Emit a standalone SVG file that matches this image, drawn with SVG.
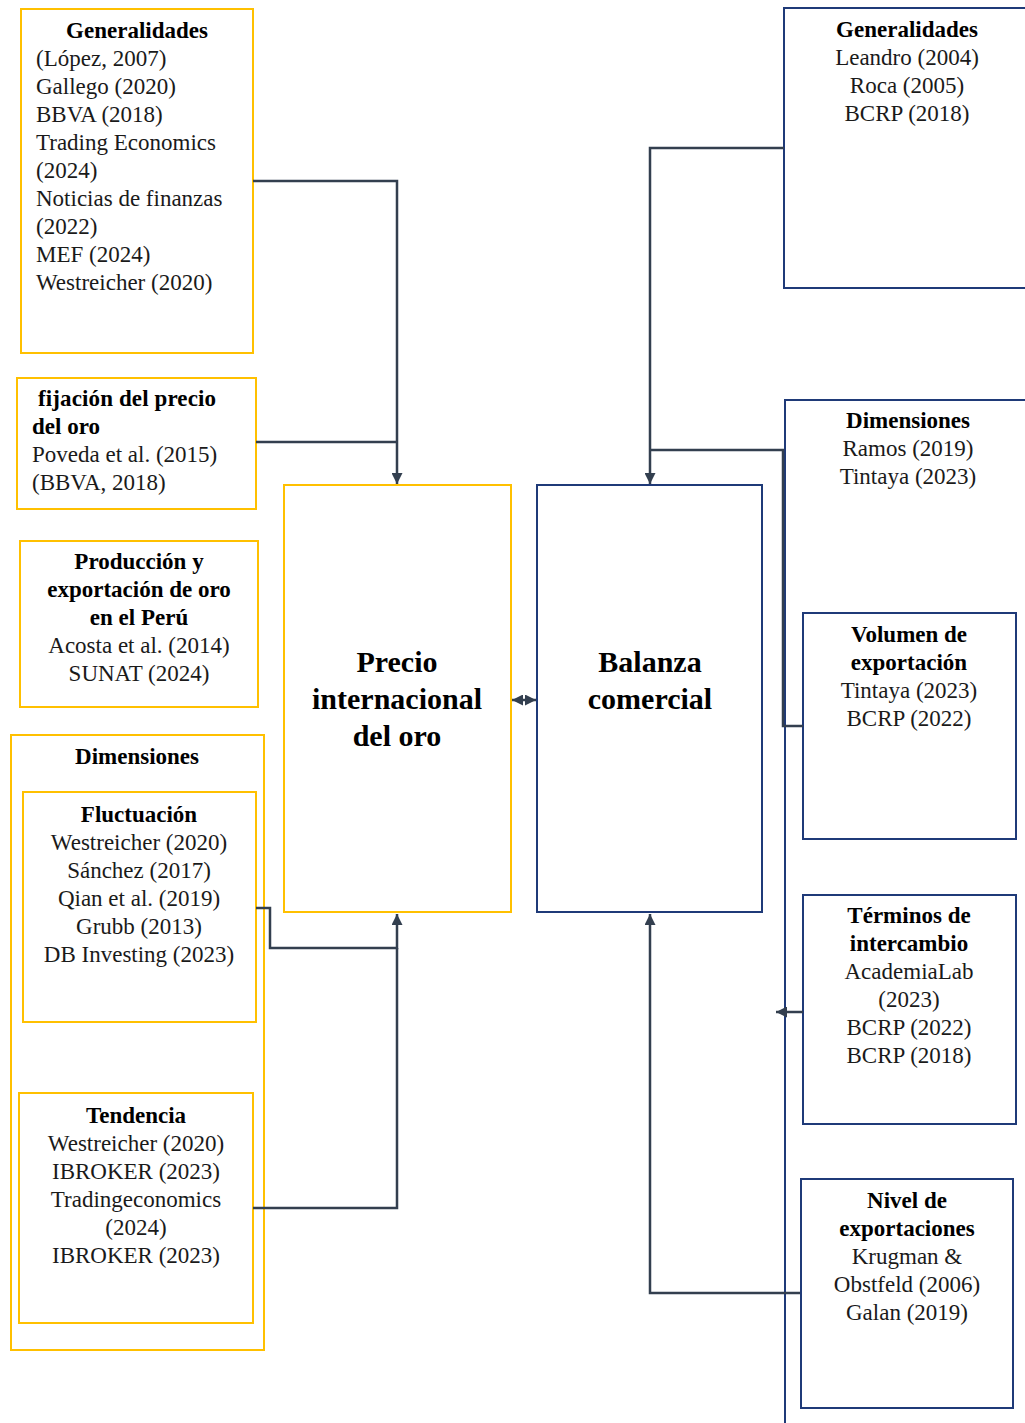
<svg xmlns="http://www.w3.org/2000/svg" width="1025" height="1423" viewBox="0 0 1025 1423">
<defs>
<style>
.y{fill:#fff;stroke:#FFC000;stroke-width:2}
.b{fill:#fff;stroke:#1F3A78;stroke-width:2}
.c{fill:none;stroke:#333F4F;stroke-width:2.5}
text{font-family:"Liberation Serif","Times New Roman",serif;font-size:23px;fill:#1a1a1a}
.t{font-weight:bold;fill:#000}
.m{text-anchor:middle}
.big{font-size:30px;font-weight:bold;fill:#000;text-anchor:middle}
</style>
<marker id="ar" viewBox="0 0 10 10" refX="10" refY="5" markerWidth="11" markerHeight="11" markerUnits="userSpaceOnUse" orient="auto-start-reverse">
<path d="M0,0 L10,5 L0,10 z" fill="#333F4F"/>
</marker>
</defs>
<rect width="1025" height="1423" fill="#fff"/>

<g id="gen-left">
<rect class="y" x="21" y="9" width="232" height="344"/>
<text class="t m" x="137" y="38">Generalidades</text>
<text x="36" y="66">(López, 2007)</text>
<text x="36" y="94">Gallego (2020)</text>
<text x="36" y="122">BBVA (2018)</text>
<text x="36" y="150">Trading Economics</text>
<text x="36" y="178">(2024)</text>
<text x="36" y="206">Noticias de finanzas</text>
<text x="36" y="234">(2022)</text>
<text x="36" y="262">MEF (2024)</text>
<text x="36" y="290">Westreicher (2020)</text>
</g>

<g id="fijacion">
<rect class="y" x="17" y="378" width="239" height="131"/>
<text class="t" x="38" y="406" textLength="178">fijación del precio</text>
<text class="t" x="32" y="434">del oro</text>
<text x="32" y="462">Poveda et al. (2015)</text>
<text x="32" y="490">(BBVA, 2018)</text>
</g>

<g id="produccion">
<rect class="y" x="20" y="541" width="238" height="166"/>
<text class="t m" x="139" y="569">Producción y</text>
<text class="t m" x="139" y="597">exportación de oro</text>
<text class="t m" x="139" y="625">en el Perú</text>
<text class="m" x="139" y="653">Acosta et al. (2014)</text>
<text class="m" x="139" y="681">SUNAT (2024)</text>
</g>

<g id="dim-left">
<rect class="y" x="11" y="735" width="253" height="615"/>
<text class="t m" x="137" y="764">Dimensiones</text>
</g>

<g id="fluctuacion">
<rect class="y" x="23" y="792" width="233" height="230"/>
<text class="t m" x="139" y="822">Fluctuación</text>
<text class="m" x="139" y="850">Westreicher (2020)</text>
<text class="m" x="139" y="878">Sánchez (2017)</text>
<text class="m" x="139" y="906">Qian et al. (2019)</text>
<text class="m" x="139" y="934">Grubb (2013)</text>
<text class="m" x="139" y="962">DB Investing (2023)</text>
</g>

<g id="tendencia">
<rect class="y" x="19" y="1093" width="234" height="230"/>
<text class="t m" x="136" y="1123">Tendencia</text>
<text class="m" x="136" y="1151">Westreicher (2020)</text>
<text class="m" x="136" y="1179">IBROKER (2023)</text>
<text class="m" x="136" y="1207">Tradingeconomics</text>
<text class="m" x="136" y="1235">(2024)</text>
<text class="m" x="136" y="1263">IBROKER (2023)</text>
</g>

<g id="precio">
<rect class="y" x="284" y="485" width="227" height="427"/>
<text class="big" x="397" y="672">Precio</text>
<text class="big" x="397" y="709">internacional</text>
<text class="big" x="397" y="746">del oro</text>
</g>

<g id="balanza">
<rect class="b" x="537" y="485" width="225" height="427"/>
<text class="big" x="650" y="672">Balanza</text>
<text class="big" x="650" y="709">comercial</text>
</g>

<g id="gen-right">
<rect class="b" x="784" y="8" width="250" height="280"/>
<text class="t m" x="907" y="37">Generalidades</text>
<text class="m" x="907" y="65">Leandro (2004)</text>
<text class="m" x="907" y="93">Roca (2005)</text>
<text class="m" x="907" y="121">BCRP (2018)</text>
</g>

<g id="dim-right">
<rect class="b" x="785" y="400" width="250" height="1040" style="fill:none"/>
<text class="t m" x="908" y="428">Dimensiones</text>
<text class="m" x="908" y="456">Ramos (2019)</text>
<text class="m" x="908" y="484">Tintaya (2023)</text>
</g>

<g id="volumen">
<rect class="b" x="803" y="613" width="213" height="226"/>
<text class="t m" x="909" y="642">Volumen de</text>
<text class="t m" x="909" y="670">exportación</text>
<text class="m" x="909" y="698">Tintaya (2023)</text>
<text class="m" x="909" y="726">BCRP (2022)</text>
</g>

<g id="terminos">
<rect class="b" x="803" y="895" width="213" height="229"/>
<text class="t m" x="909" y="923">Términos de</text>
<text class="t m" x="909" y="951">intercambio</text>
<text class="m" x="909" y="979">AcademiaLab</text>
<text class="m" x="909" y="1007">(2023)</text>
<text class="m" x="909" y="1035">BCRP (2022)</text>
<text class="m" x="909" y="1063">BCRP (2018)</text>
</g>

<g id="nivel">
<rect class="b" x="801" y="1179" width="212" height="229"/>
<text class="t m" x="907" y="1208">Nivel de</text>
<text class="t m" x="907" y="1236">exportaciones</text>
<text class="m" x="907" y="1264">Krugman &amp;</text>
<text class="m" x="907" y="1292">Obstfeld (2006)</text>
<text class="m" x="907" y="1320">Galan (2019)</text>
</g>

<g id="connectors">
<path class="c" d="M253,181 H397 V484" marker-end="url(#ar)"/>
<path class="c" d="M256,442 H397"/>
<path class="c" d="M256,908 H270 V948 H397 V914" marker-end="url(#ar)"/>
<path class="c" d="M253,1208 H397 V948"/>
<path class="c" d="M784,148 H650 V484" marker-end="url(#ar)"/>
<path class="c" d="M803,726 H783 V450 H650"/>
<path class="c" d="M803,1012 H776" marker-end="url(#ar)"/>
<path class="c" d="M800,1293 H650 V914" marker-end="url(#ar)"/>
<path class="c" d="M512,700 H536" marker-start="url(#ar)" marker-end="url(#ar)"/>
</g>
</svg>
